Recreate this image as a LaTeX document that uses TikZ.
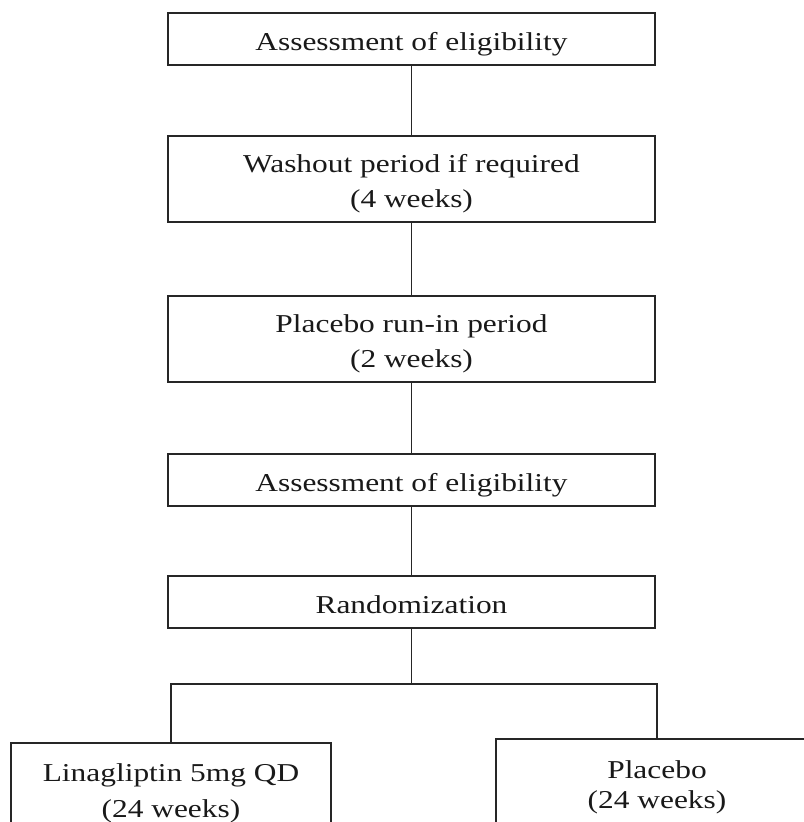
\documentclass[tikz,border=0pt]{standalone}
\usepackage{fontspec}
\setmainfont{Liberation Serif}[FakeStretch=1.22]
\newcommand\mytxt[1]{\raisebox{0pt}[\dimexpr\height+6pt\relax][\depth]{\begin{tabular}{@{}c@{}}#1\end{tabular}}}
\begin{document}
\begin{tikzpicture}[x=0.75pt,y=-0.75pt,
  box/.style={draw=black!85, line width=1.1pt, fill=white, minimum width=365.25pt, minimum height=39pt,
    inner sep=0pt, font=\fontsize{19.3pt}{26.25pt}\selectfont, text=black!90},
  tallbox/.style={box, minimum height=64.5pt},
  armbox/.style={draw=black!85, line width=1.1pt, fill=white, inner sep=0pt, text=black!90},
  conn/.style={draw=black!85, line width=1.1pt}]
\useasboundingbox (0,0) rectangle (804,822);
\clip (0,0) rectangle (804,822);

\node[box] (b1) at (411.5,39) {\mytxt{Assessment of eligibility}};
\node[tallbox] (b2) at (411.5,179) {\mytxt{Washout period if required\\(4 weeks)}};
\node[tallbox] (b3) at (411.5,339) {\mytxt{Placebo run-in period\\(2 weeks)}};
\node[box] (b4) at (411.5,480) {\mytxt{Assessment of eligibility}};
\node[box] (b5) at (411.5,602) {\mytxt{Randomization}};

\node[armbox, minimum width=240pt, minimum height=67.5pt,
  font=\fontsize{19.3pt}{27pt}\selectfont] (lin) at (171,788) {\mytxt{Linagliptin 5mg QD\\(24 weeks)}};
\node[armbox, minimum width=241.5pt, minimum height=66pt,
  font=\fontsize{19.3pt}{22.5pt}\selectfont] (pla) at (657,783) {\mytxt{Placebo\\(24 weeks)}};

\coordinate (split) at (411.5,684);

\draw[conn] (b1.south) -- (b2.north);
\draw[conn] (b2.south) -- (b3.north);
\draw[conn] (b3.south) -- (b4.north);
\draw[conn] (b4.south) -- (b5.north);
\draw[conn] (b5.south) -- (split);
\draw[conn] (lin.north) |- (split) -| (pla.north);
\end{tikzpicture}
\end{document}
